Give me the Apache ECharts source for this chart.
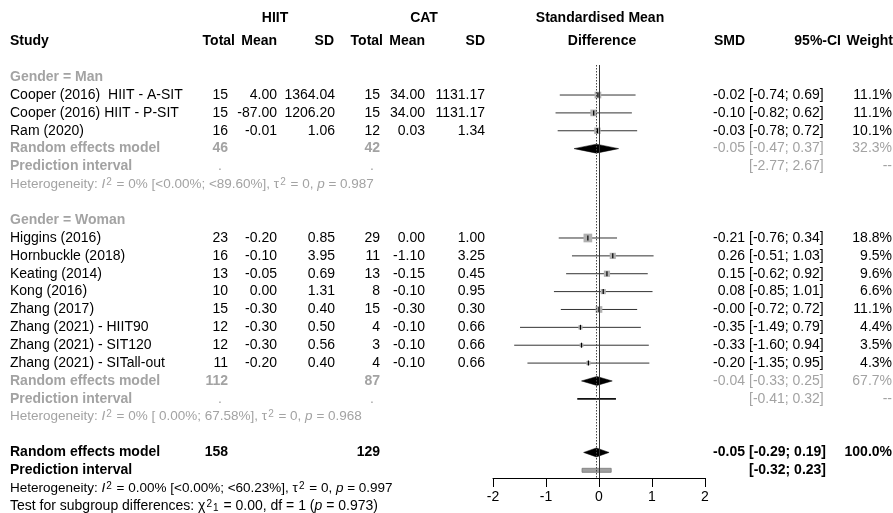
<!DOCTYPE html>
<html><head><meta charset="utf-8">
<script src="https://cdn.jsdelivr.net/npm/echarts@6/dist/echarts.min.js"></script>
<style>html,body{margin:0;padding:0;background:#fff}#c{width:893px;height:513px}</style>
</head><body><div id="c"></div>
<script>
// ---------- data ----------
const studies = ['Cooper (2016)  HIIT - A-SIT','Cooper (2016) HIIT - P-SIT','Ram (2020)',
  'Higgins (2016)','Hornbuckle (2018)','Keating (2014)','Kong (2016)','Zhang (2017)',
  'Zhang (2021) - HIIT90','Zhang (2021) - SIT120','Zhang (2021) - SITall-out'];
const studyGroup = [0,0,0,1,1,1,1,1,1,1,1];
const hiitTotal = [15,15,16,23,16,13,10,15,12,12,11];
const hiitMean = ['4.00','-87.00','-0.01','-0.20','-0.10','-0.05','0.00','-0.30','-0.30','-0.30','-0.20'];
const hiitSD = ['1364.04','1206.20','1.06','0.85','3.95','0.69','1.31','0.40','0.50','0.56','0.40'];
const catTotal = [15,15,12,29,11,13,8,15,4,3,4];
const catMean = ['34.00','34.00','0.03','0.00','-1.10','-0.15','-0.10','-0.30','-0.10','-0.10','-0.10'];
const catSD = ['1131.17','1131.17','1.34','1.00','3.25','0.45','0.95','0.30','0.66','0.66','0.66'];
const smd = [-0.02,-0.10,-0.03,-0.21,0.26,0.15,0.08,-0.00,-0.35,-0.33,-0.20];
const ciLow = [-0.74,-0.82,-0.78,-0.76,-0.51,-0.62,-0.85,-0.72,-1.49,-1.60,-1.35];
const ciHigh = [0.69,0.62,0.72,0.34,1.03,0.92,1.01,0.72,0.79,0.94,0.95];
const weight = [11.1,11.1,10.1,18.8,9.5,9.6,6.6,11.1,4.4,3.5,4.3];

const groupNames = ['Gender = Man','Gender = Woman'];
const groupHiitTotal = [46,112];
const groupCatTotal = [42,87];
const groupSMD = [-0.05,-0.04];
const groupLow = [-0.47,-0.33];
const groupHigh = [0.37,0.25];
const groupWeight = [32.3,67.7];
const groupPILow = [-2.77,-0.41];
const groupPIHigh = [2.67,0.32];
const groupI2 = ['0% [<0.00%; <89.60%]','0% [ 0.00%; 67.58%]'];
const groupTau2 = ['0','0'];
const groupP = ['0.987','0.968'];

const overallHiitTotal = 158, overallCatTotal = 129;
const overallSMD = -0.05, overallLow = -0.29, overallHigh = 0.19, overallWeight = 100.0;
const overallPILow = -0.32, overallPIHigh = 0.23;
const overallI2 = '0.00% [<0.00%; <60.23%]', overallTau2 = '0', overallP = '0.997';
const testChi2 = '0.00', testDf = '1', testP = '0.973';
const xTicks = [-2,-1,0,1,2];

// ---------- layout rows ----------
const rows = {groupHeader:[], study:[], rem:[], pi:[], het:[]};
let r = -1;
for (let g = 0; g < groupNames.length; g++) {
  rows.groupHeader.push(r); r++;
  studies.forEach((s,i)=>{ if (studyGroup[i]===g) { rows.study[i]=r; r++; } });
  rows.rem.push(r); r++;
  rows.pi.push(r); r++;
  rows.het.push(r); r++;
  r++;
}
const rowOverall = r, rowOverallPI = r+1, rowOverallHet = r+2, rowTest = r+3;

const fmt = v => (Object.is(v,-0) || (v<0 && v.toFixed(2)==='0.00')) ? '-0.00' : v.toFixed(2);
const ciTxt = (a,b) => '[' + fmt(a) + '; ' + fmt(b) + ']';

const GRAY = '#a3a3a3';
const FONT = "'Liberation Sans', Arial, sans-serif";
const FS = 14, FS_SMALL = 13.5;

const chart = echarts.init(document.getElementById('c'), null, {renderer:'canvas'});

const studyData = studies.map((s,i)=>[smd[i], rows.study[i], ciLow[i], ciHigh[i], weight[i]]);
const diamondData = groupSMD.map((v,g)=>[v, rows.rem[g], groupLow[g], groupHigh[g]]);
diamondData.push([overallSMD, rowOverall, overallLow, overallHigh]);
const piData = groupPILow.map((v,g)=>[v, rows.pi[g], groupPIHigh[g], 0]);
piData.push([overallPILow, rowOverallPI, overallPIHigh, 1]);

chart.setOption({
  animation:false,
  grid:{left:493, width:212, top:65, height:413},
  xAxis:{type:'value', min:-2, max:2, interval:1,
    axisLine:{show:true, onZero:false, lineStyle:{color:'#000', width:1}},
    axisTick:{show:true, length:9, lineStyle:{color:'#000'}},
    axisLabel:{color:'#000', fontSize:14, fontFamily:FONT, margin:12},
    splitLine:{show:false}},
  yAxis:{type:'value', inverse:true, min:-1.68, max:21.43, show:false},
  series:[
    {type:'custom', name:'ref', data:[], renderItem:()=>null,
      markLine:{silent:true, symbol:'none', label:{show:false}, animation:false,
        data:[{xAxis:0, lineStyle:{color:'#333', width:1, type:'solid'}},
              {xAxis:overallSMD, lineStyle:{color:'#444', width:1, type:[1.5,1.5]}}]}},
    {type:'custom', name:'studies', data:studyData, clip:false,
      renderItem:(p,api)=>{
        const c = api.coord([api.value(0), api.value(1)]);
        const l = api.coord([api.value(2), api.value(1)]);
        const h = api.coord([api.value(3), api.value(1)]);
        const s = 2*Math.sqrt(api.value(4));
        return {type:'group', children:[
          {type:'line', shape:{x1:l[0],y1:c[1],x2:h[0],y2:c[1]}, style:{stroke:'#333', lineWidth:1}},
          {type:'rect', shape:{x:c[0]-s/2,y:c[1]-s/2,width:s,height:s}, style:{fill:'#b0b0b0'}},
          {type:'line', shape:{x1:c[0],y1:c[1]-2.5,x2:c[0],y2:c[1]+2.5}, style:{stroke:'#000', lineWidth:1.2}}
        ]};
      }},
    {type:'custom', name:'diamonds', data:diamondData, clip:false,
      renderItem:(p,api)=>{
        const c = api.coord([api.value(0), api.value(1)]);
        const l = api.coord([api.value(2), api.value(1)]);
        const h = api.coord([api.value(3), api.value(1)]);
        return {type:'polygon', shape:{points:[[l[0],c[1]],[c[0],c[1]-4.5],[h[0],c[1]],[c[0],c[1]+4.5]]},
          style:{fill:'#000', stroke:'#000', lineWidth:0.5}};
      }},
    {type:'custom', name:'pi', data:piData, clip:false,
      renderItem:(p,api)=>{
        const lo = api.value(0), hi = api.value(2);
        if (lo < -2 || hi > 2) return null;
        const l = api.coord([lo, api.value(1)]);
        const h = api.coord([hi, api.value(1)]);
        if (api.value(3) === 0) {
          return {type:'line', shape:{x1:l[0],y1:l[1],x2:h[0],y2:l[1]}, style:{stroke:'#111', lineWidth:1.6}};
        }
        return {type:'rect', shape:{x:l[0],y:l[1]-2,width:h[0]-l[0],height:4}, style:{fill:'#a0a0a0', stroke:'#777', lineWidth:0.8}};
      }}
  ]
});

// ---------- table text ----------
const Y = row => chart.convertToPixel({yAxisIndex:0}, row);
const G = [];
function txt(s, x, row, opt) {
  opt = opt || {};
  const st = {text:String(s), x:x, y:Y(row),
    font:(opt.bold?'bold ':'') + (opt.size||FS) + 'px ' + FONT,
    fill:opt.color||'#000',
    align:opt.align||'right', textAlign:opt.align||'right',
    verticalAlign:'middle', textVerticalAlign:'middle'};
  if (opt.rich) st.rich = opt.rich;
  G.push({type:'text', silent:true, style:st});
}
const COL = {study:10, hT:228, hM:277, hSD:335, cT:380, cM:425, cSD:485, smd:745, ci:749, w:892};

// headers
const hRow1 = -4.3, hRow2 = -3;
txt('HIIT', 275, hRow1, {bold:true, align:'center'});
txt('CAT', 424, hRow1, {bold:true, align:'center'});
txt('Standardised Mean', 600, hRow1, {bold:true, align:'center'});
txt('Study', COL.study, hRow2, {bold:true, align:'left'});
txt('Total', 235, hRow2, {bold:true});
txt('Mean', 277, hRow2, {bold:true});
txt('SD', 334, hRow2, {bold:true});
txt('Total', 383, hRow2, {bold:true});
txt('Mean', 425, hRow2, {bold:true});
txt('SD', 485, hRow2, {bold:true});
txt('Difference', 602, hRow2, {bold:true, align:'center'});
txt('SMD', 745, hRow2, {bold:true});
txt('95%-CI', 841, hRow2, {bold:true});
txt('Weight', 893, hRow2, {bold:true});

// studies
studies.forEach((s,i)=>{
  const row = rows.study[i];
  txt(s, COL.study, row, {align:'left'});
  txt(hiitTotal[i], COL.hT, row);
  txt(hiitMean[i], COL.hM, row);
  txt(hiitSD[i], COL.hSD, row);
  txt(catTotal[i], COL.cT, row);
  txt(catMean[i], COL.cM, row);
  txt(catSD[i], COL.cSD, row);
  txt(fmt(smd[i]), COL.smd, row);
  txt(ciTxt(ciLow[i], ciHigh[i]), COL.ci, row, {align:'left'});
  txt(weight[i].toFixed(1)+'%', COL.w, row);
});

const hetRich = (color, size) => ({
  it:{fill:color, font:'italic '+size+'px '+FONT},
  sup:{fill:color, font:'10px '+FONT, verticalAlign:'top', padding:[0,1,0,1]},
  sub:{fill:color, font:'10px '+FONT, verticalAlign:'bottom', padding:[0,1,0,0]}
});
const hetTxt = (i2, tau2, p) => 'Heterogeneity: {it|I}{sup|2} = ' + i2 + ', \u03c4{sup|2} = ' + tau2 + ', {it|p} = ' + p;
groupNames.forEach((gname,g)=>{
  txt(gname, COL.study, rows.groupHeader[g], {align:'left', bold:true, color:GRAY});
  const rr = rows.rem[g];
  txt('Random effects model', COL.study, rr, {align:'left', bold:true, color:GRAY});
  txt(groupHiitTotal[g], COL.hT, rr, {bold:true, color:GRAY});
  txt(groupCatTotal[g], COL.cT, rr, {bold:true, color:GRAY});
  txt(fmt(groupSMD[g]), COL.smd, rr, {color:GRAY});
  txt(ciTxt(groupLow[g], groupHigh[g]), COL.ci, rr, {align:'left', color:GRAY});
  txt(groupWeight[g].toFixed(1)+'%', COL.w, rr, {color:GRAY});
  const pr = rows.pi[g];
  txt('Prediction interval', COL.study, pr, {align:'left', bold:true, color:GRAY});
  txt('.', COL.hT-6, pr, {color:GRAY});
  txt('.', COL.cT-6, pr, {color:GRAY});
  txt(ciTxt(groupPILow[g], groupPIHigh[g]), COL.ci, pr, {align:'left', color:GRAY});
  txt('--', COL.w, pr, {color:GRAY});
  txt(hetTxt(groupI2[g], groupTau2[g], groupP[g]),
    COL.study, rows.het[g], {align:'left', size:FS_SMALL, color:GRAY, rich:hetRich(GRAY, FS_SMALL)});
});

// overall
txt('Random effects model', COL.study, rowOverall, {align:'left', bold:true});
txt(overallHiitTotal, COL.hT, rowOverall, {bold:true});
txt(overallCatTotal, COL.cT, rowOverall, {bold:true});
txt(fmt(overallSMD), COL.smd, rowOverall, {bold:true});
txt(ciTxt(overallLow, overallHigh), COL.ci, rowOverall, {align:'left', bold:true});
txt(overallWeight.toFixed(1)+'%', COL.w, rowOverall, {bold:true});
txt('Prediction interval', COL.study, rowOverallPI, {align:'left', bold:true});
txt(ciTxt(overallPILow, overallPIHigh), COL.ci, rowOverallPI, {align:'left', bold:true});
txt(hetTxt(overallI2, overallTau2, overallP),
  COL.study, rowOverallHet, {align:'left', size:FS_SMALL, rich:hetRich('#000', FS_SMALL)});
txt('Test for subgroup differences: \u03c7{sup|2}{sub|' + testDf + '} = ' + testChi2 + ', df = ' + testDf + ' ({it|p} = ' + testP + ')',
  COL.study, rowTest, {align:'left', size:14, rich:hetRich('#000', 14)});

chart.setOption({graphic:{elements:G}});
</script></body></html>
